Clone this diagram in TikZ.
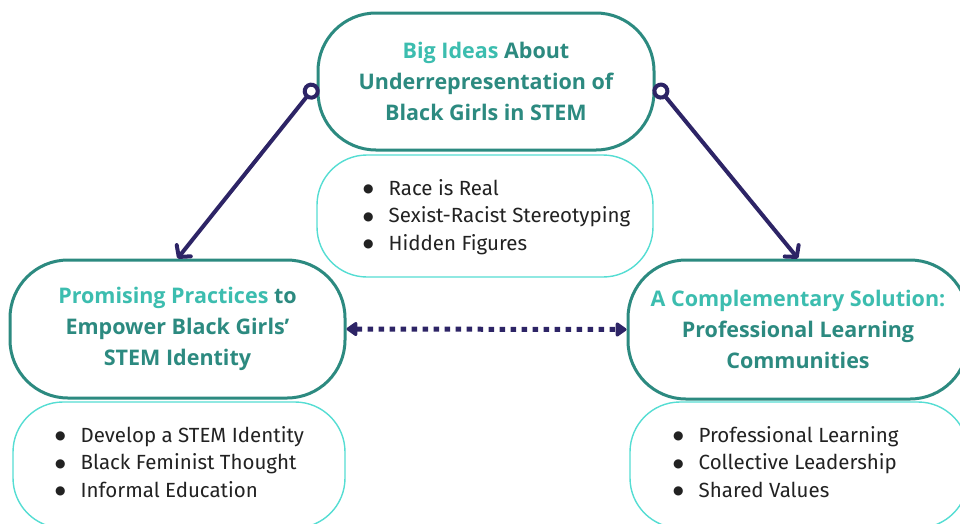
\documentclass[tikz,border=0pt]{standalone}
\usepackage{fontspec}
\setmainfont{Open Sans}
\newfontfamily\itemfont{Fira Sans}
\newfontfamily\dotfont{DejaVu Sans}
\usetikzlibrary{arrows.meta,calc}

\definecolor{headteal}{HTML}{2C8A80}
\definecolor{lightteal}{HTML}{3CBDAF}
\definecolor{rimcyan}{HTML}{55DDD3}
\definecolor{linkpurple}{HTML}{2D2466}
\definecolor{itemgray}{HTML}{222222}

\tikzset{
  headbox/.style={draw=headteal, line width=3pt, rounded corners=58pt, fill=white,
    inner sep=0pt, align=center, text=headteal,
    font=\bfseries\fontsize{21.5}{31}\selectfont},
  listbox/.style={draw=rimcyan, line width=1.4pt, rounded corners=50pt, fill=white,
    inner sep=0pt},
  listtext/.style={anchor=west, inner sep=0pt, text=itemgray,
    font=\itemfont\fontsize{20.5}{27.5}\selectfont},
  link/.style={draw=linkpurple, line width=4pt},
}
\newcommand{\listdot}{{\dotfont\fontsize{12}{0}\selectfont\raisebox{2.5pt}{●}}}
\newcommand{\itembullets}[3]{%
  \begin{tabular}{@{}l@{\hspace{15pt}}l@{}}
    \listdot & #1\\
    \listdot & #2\\
    \listdot & #3
  \end{tabular}}

\begin{document}
\begin{tikzpicture}[x=1pt,y=-1pt]
  \useasboundingbox (0,0) rectangle (960,523);
  \clip (0,0) rectangle (960,523);

  % lists under each heading
  \node[listbox, minimum width=336pt, minimum height=122pt] (ideas) at (485,216) {};
  \node[listbox, minimum width=332pt, minimum height=126pt] (practices) at (179,465) {};
  \node[listbox, minimum width=338pt, minimum height=126pt] (solutions) at (799,465) {};

  \node[listtext] (ideastext) at ($(ideas.north)+(-122,63)$)
    {\itembullets{Race is Real}{Sexist-Racist Stereotyping}{Hidden Figures}};
  \node[listtext] (practicestext) at ($(practices.north)+(-124,63)$)
    {\itembullets{Develop a STEM Identity}{Black Feminist Thought}{Informal Education}};
  \node[listtext] (solutionstext) at ($(solutions.north)+(-126,63)$)
    {\itembullets{Professional Learning}{Collective Leadership}{Shared Values}};

  % headings
  \node[headbox, minimum width=336pt, minimum height=137pt] (big) at (486,81.5)
    {\textcolor{lightteal}{Big Ideas} About\\Underrepresentation of\\Black Girls in STEM};
  \node[headbox, minimum width=335pt, minimum height=138pt] (pp) at (177.5,329)
    {\textcolor{lightteal}{Promising Practices} to\\Empower Black Girls’\\STEM Identity};
  \node[headbox, minimum width=340pt, minimum height=139pt] (cs) at (798,329.5)
    {\textcolor{lightteal}{A Complementary Solution:}\\Professional Learning\\Communities};

  % connectors
  \coordinate (lstart) at ($(big.west)+(0,3)$);
  \coordinate (rstart) at ($(big.east)+(0,3)$);
  \draw[link, {Circle[open,length=17pt,width=17pt]}-{Straight Barb[length=8pt,width=18pt,round]}]
    (lstart) -- (pp.north);
  \draw[link, {Circle[open,length=17pt,width=17pt]}-{Straight Barb[length=8pt,width=18pt,round]}]
    (rstart) -- (cs.north);
  \draw[link, line width=5pt, dash pattern=on 5.5pt off 5.5pt,
    {Triangle[length=12pt,width=16pt,round]}-{Triangle[length=12pt,width=16pt,round]}]
    (pp.east) -- (cs.west);
\end{tikzpicture}
\end{document}
